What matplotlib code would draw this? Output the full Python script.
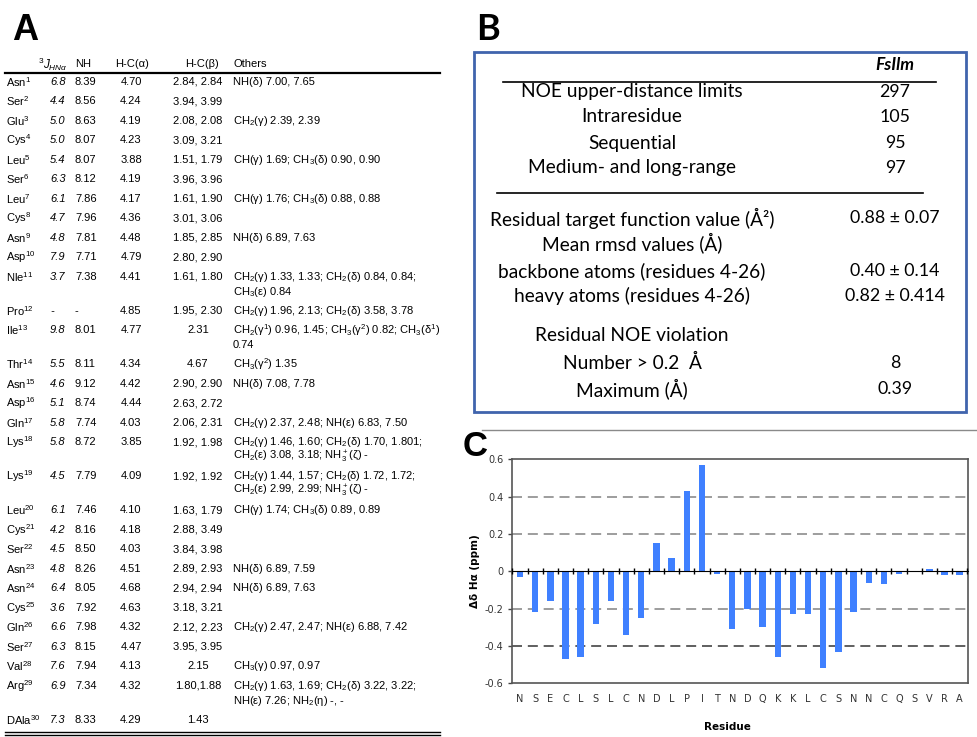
import matplotlib
matplotlib.use("Agg")
import matplotlib.pyplot as plt
from matplotlib.lines import Line2D
from matplotlib.patches import Rectangle
import numpy as np

plt.rcParams['mathtext.fontset'] = 'custom'
plt.rcParams['mathtext.rm'] = 'Liberation Sans'
plt.rcParams['mathtext.it'] = 'Liberation Sans:italic'
plt.rcParams['mathtext.bf'] = 'Liberation Sans:bold'

# ---- panel A data (chemical shifts) ----
res_names = ['Asn', 'Ser', 'Glu', 'Cys', 'Leu', 'Ser', 'Leu', 'Cys', 'Asn', 'Asp',
             'Nle', 'Pro', 'Ile', 'Thr', 'Asn', 'Asp', 'Gln', 'Lys', 'Lys', 'Leu',
             'Cys', 'Ser', 'Asn', 'Asn', 'Cys', 'Gln', 'Ser', 'Val', 'Arg', 'DAla']
j_hna = ['6.8', '4.4', '5.0', '5.0', '5.4', '6.3', '6.1', '4.7', '4.8', '7.9',
         '3.7', '-', '9.8', '5.5', '4.6', '5.1', '5.8', '5.8', '4.5', '6.1',
         '4.2', '4.5', '4.8', '6.4', '3.6', '6.6', '6.3', '7.6', '6.9', '7.3']
nh = ['8.39', '8.56', '8.63', '8.07', '8.07', '8.12', '7.86', '7.96', '7.81', '7.71',
      '7.38', '-', '8.01', '8.11', '9.12', '8.74', '7.74', '8.72', '7.79', '7.46',
      '8.16', '8.50', '8.26', '8.05', '7.92', '7.98', '8.15', '7.94', '7.34', '8.33']
h_ca = ['4.70', '4.24', '4.19', '4.23', '3.88', '4.19', '4.17', '4.36', '4.48', '4.79',
        '4.41', '4.85', '4.77', '4.34', '4.42', '4.44', '4.03', '3.85', '4.09', '4.10',
        '4.18', '4.03', '4.51', '4.68', '4.63', '4.32', '4.47', '4.13', '4.32', '4.29']
h_cb = ['2.84, 2.84', '3.94, 3.99', '2.08, 2.08', '3.09, 3.21', '1.51, 1.79',
        '3.96, 3.96', '1.61, 1.90', '3.01, 3.06', '1.85, 2.85', '2.80, 2.90',
        '1.61, 1.80', '1.95, 2.30', '2.31', '4.67', '2.90, 2.90',
        '2.63, 2.72', '2.06, 2.31', '1.92, 1.98', '1.92, 1.92', '1.63, 1.79',
        '2.88, 3.49', '3.84, 3.98', '2.89, 2.93', '2.94, 2.94', '3.18, 3.21',
        '2.12, 2.23', '3.95, 3.95', '2.15', '1.80,1.88', '1.43']
others = [
    ['NH(δ) 7.00, 7.65'], [], ['CH$_2$(γ) 2.39, 2.39'], [],
    ['CH(γ) 1.69; CH$_3$(δ) 0.90, 0.90'], [],
    ['CH(γ) 1.76; CH$_3$(δ) 0.88, 0.88'], [], ['NH(δ) 6.89, 7.63'], [],
    ['CH$_2$(γ) 1.33, 1.33; CH$_2$(δ) 0.84, 0.84;', 'CH$_3$(ε) 0.84'],
    ['CH$_2$(γ) 1.96, 2.13; CH$_2$(δ) 3.58, 3.78'],
    ['CH$_2$(γ$^1$) 0.96, 1.45; CH$_3$(γ$^2$) 0.82; CH$_3$(δ$^1$)', '0.74'],
    ['CH$_3$(γ$^2$) 1.35'], ['NH(δ) 7.08, 7.78'], [],
    ['CH$_2$(γ) 2.37, 2.48; NH(ε) 6.83, 7.50'],
    ['CH$_2$(γ) 1.46, 1.60; CH$_2$(δ) 1.70, 1.801;', 'CH$_2$(ε) 3.08, 3.18; NH$_3^+$(ζ) -'],
    ['CH$_2$(γ) 1.44, 1.57; CH$_2$(δ) 1.72, 1.72;', 'CH$_2$(ε) 2.99, 2.99; NH$_3^+$(ζ) -'],
    ['CH(γ) 1.74; CH$_3$(δ) 0.89, 0.89'], [], [], ['NH(δ) 6.89, 7.59'],
    ['NH(δ) 6.89, 7.63'], [], ['CH$_2$(γ) 2.47, 2.47; NH(ε) 6.88, 7.42'], [],
    ['CH$_3$(γ) 0.97, 0.97'],
    ['CH$_2$(γ) 1.63, 1.69; CH$_2$(δ) 3.22, 3.22;', 'NH(ε) 7.26; NH$_2$(η) -, -'],
    [],
]

# ---- panel B data (structure statistics) ----
stat_labels = ['NOE upper-distance limits', 'Intraresidue', 'Sequential',
               'Medium- and long-range', 'Residual target function value (Å²)',
               'Mean rmsd values (Å)', 'backbone atoms (residues 4-26)',
               'heavy atoms (residues 4-26)', 'Residual NOE violation',
               'Number > 0.2  Å', 'Maximum (Å)']
stat_values = ['297', '105', '95', '97', '0.88 ± 0.07', '', '0.40 ± 0.14',
               '0.82 ± 0.414', '', '8', '0.39']

# ---- panel C data (Ha secondary shifts) ----
residues = list('NSECLSLCNDLPITNDQKKLCSNNCQSVRA')
delta_ha = [-0.03, -0.22, -0.16, -0.47, -0.46, -0.28, -0.16, -0.34, -0.25, 0.15,
            0.07, 0.43, 0.57, -0.015, -0.31, -0.20, -0.30, -0.46, -0.23, -0.23,
            -0.52, -0.43, -0.22, -0.06, -0.07, -0.015, 0.0, 0.01, -0.02, -0.02]

W, H = 978, 737
fig = plt.figure(figsize=(W / 100, H / 100), dpi=100)


def fx(x):
    return x / W


def fy(y):
    return 1 - y / H


def hline(x0, x1, y, **kw):
    fig.add_artist(Line2D([fx(x0), fx(x1)], [fy(y), fy(y)],
                          transform=fig.transFigure, **kw))


# ================= A =================
fig.text(fx(12), fy(30), 'A', fontsize=26, fontweight='bold',
         family='Liberation Sans', va='center', ha='left')

tfont = dict(family='Liberation Sans', fontsize=8, va='center')
hy = 64
fig.text(fx(38), fy(hy), r'$^3J_{HN\alpha}$', ha='left', family='Liberation Sans',
         fontsize=8.5, va='center')
fig.text(fx(75), fy(hy), 'NH', ha='left', **tfont)
fig.text(fx(132), fy(hy), 'H-C(α)', ha='center', **tfont)
fig.text(fx(202), fy(hy), 'H-C(β)', ha='center', **tfont)
fig.text(fx(234), fy(hy), 'Others', ha='left', **tfont)
hline(5, 440, 73, color='black', lw=1.6)

y = 81.7
for i, name in enumerate(res_names):
    fig.text(fx(6), fy(y), name + '$^{%d}$' % (i + 1), ha='left', **tfont)
    fig.text(fx(50), fy(y), j_hna[i], ha='left', style='italic', **tfont)
    fig.text(fx(75), fy(y), nh[i], ha='left', **tfont)
    fig.text(fx(131), fy(y), h_ca[i], ha='center', **tfont)
    fig.text(fx(198), fy(y), h_cb[i], ha='center', **tfont)
    for k, line in enumerate(others[i]):
        fig.text(fx(233), fy(y + 15 * k), line, ha='left', **tfont)
    y += 19.5 + 14.5 * max(len(others[i]) - 1, 0)

hline(5, 440, 731.5, color='black', lw=1.0)
hline(5, 440, 735, color='black', lw=1.0)

# ================= B =================
fig.text(fx(476), fy(30), 'B', fontsize=26, fontweight='bold',
         family='Lato', va='center', ha='left')
fig.add_artist(Rectangle((fx(474), fy(412)), (966 - 474) / W, (412 - 52) / H,
                         transform=fig.transFigure, fill=False,
                         edgecolor='#4064ad', lw=2))
fig.text(fx(895), fy(65), 'FsIlm', family='Lato', fontsize=12.5,
         fontweight='bold', style='italic', ha='center', va='center')
hline(503, 936, 82, color='black', lw=1.2)
hline(497, 923, 193, color='black', lw=1.2)

stat_y = [92, 117, 143, 168, 218, 243, 271, 296, 336, 363, 389]
for lab, val, yy in zip(stat_labels, stat_values, stat_y):
    fig.text(fx(632), fy(yy), lab, family='Lato', fontsize=13.8,
             ha='center', va='center')
    if val:
        fig.text(fx(895), fy(yy), val, family='Lato', fontsize=12.8,
                 ha='center', va='center')

# ================= C =================
hline(482, 978, 430, color='#8a8a8a', lw=1.0)
fig.text(fx(463), fy(446), 'C', fontsize=25, fontweight='bold',
         family='Liberation Sans', va='center', ha='left')

ax = fig.add_axes([511.7 / W, 1 - 683.3 / H, 456.3 / W, 224 / H])
x = np.arange(len(residues))
ax.bar(x, delta_ha, width=0.42, color='#3f80ff', zorder=3)
ax.set_xlim(-0.55, len(residues) - 0.45)
ax.set_ylim(-0.6, 0.6)
ax.set_yticks([-0.6, -0.4, -0.2, 0, 0.2, 0.4, 0.6])
ax.set_yticklabels(['-0.6', '-0.4', '-0.2', '0', '0.2', '0.4', '0.6'])
for g in [0.4, 0.2, -0.2]:
    ax.axhline(g, color='#8c8c8c', lw=1.2, ls=(0, (6, 3.5)), zorder=1)
ax.axhline(-0.4, color='#444444', lw=1.2, ls=(0, (6, 3.5)), zorder=1)

ax.set_xticks(x)
ax.set_xticklabels(residues)
ax.tick_params(axis='x', length=0, pad=8, labelsize=7, labelcolor='#333333')
ax.tick_params(axis='y', length=3, width=1, direction='out', labelsize=7,
               labelcolor='#333333', pad=3, color='#444444')
for s in ax.spines.values():
    s.set_color('#555555')
    s.set_linewidth(1.2)
for lab in ax.get_xticklabels() + ax.get_yticklabels():
    lab.set_family('DejaVu Sans')

zero = ax.secondary_xaxis(0.5)
zero.set_xticks(np.arange(-0.5, len(residues), 1.0))
zero.set_xticklabels([])
zero.tick_params(axis='x', direction='inout', length=4, width=1, color='black')
zero.spines['bottom'].set_color('black')
zero.spines['bottom'].set_linewidth(1.2)
zero.set_zorder(4)

ax.set_ylabel('Δδ Hα (ppm)', fontsize=7.5, fontweight='bold')
ax.yaxis.set_label_coords(-0.07, 0.5)
ax.set_xlabel('Residue', fontsize=7.5, fontweight='bold')
ax.xaxis.set_label_coords((727 - 511.7) / 456.3, -(721.7 - 683.3) / 224)

fig.savefig('out.png', dpi=100)
